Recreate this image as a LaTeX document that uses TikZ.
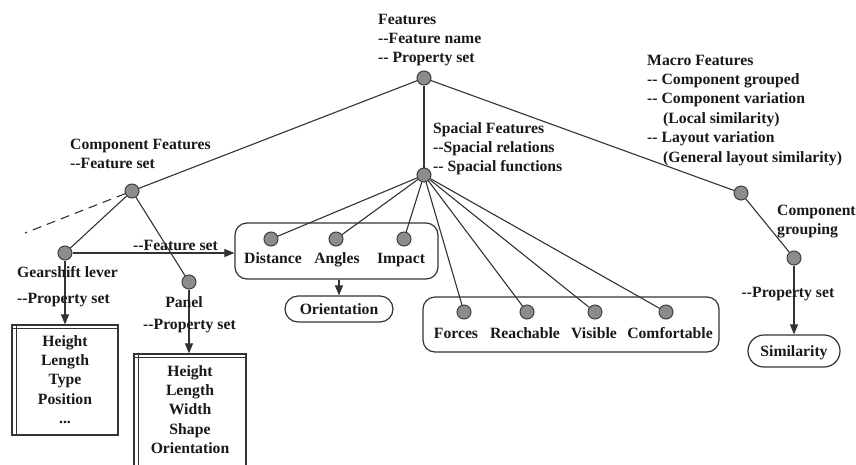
\documentclass[tikz,border=0pt]{standalone}
\usepackage{fontspec}
\setmainfont{Liberation Serif}
\usetikzlibrary{arrows.meta,calc}
\begin{document}
\begin{tikzpicture}[x=1pt,y=-1pt,
  every node/.style={font=\fontsize{15.7}{19.4}\selectfont\bfseries, text=black!90},
  dot/.style={circle,draw=black!75,fill=black!45,line width=1pt,minimum size=14pt,inner sep=0pt},
  conn/.style={draw=black!80,line width=1.1pt},
  arr/.style={conn,-{Triangle[length=10pt,width=8pt]}},
  lbl/.style={anchor=base west,inner sep=0pt,align=left},
  clbl/.style={anchor=base,inner sep=0pt,align=center},
  grp/.style={draw=black!80,line width=1.2pt,rounded corners=12pt,inner sep=0pt},
  pbox/.style={draw=black!80,line width=1.2pt,inner sep=0pt}
]
\clip (0,0) rectangle (856,464);
\fill[white] (0,0) rectangle (856,464);

% group boxes
\node[grp,minimum width=203pt,minimum height=56pt] (g1) at (336.5,251) {};
\node[grp,minimum width=296pt,minimum height=55pt] (g2) at (571,324.5) {};
\node[grp,rounded corners=13pt,minimum width=108pt,minimum height=26pt] (ori) at (339,309) {};
\node[grp,rounded corners=16pt,minimum width=92pt,minimum height=32pt] (sim) at (794,351) {};
\node[clbl] (orit) at (339,314) {Orientation};
\node[clbl] (simt) at (794,356) {Similarity};

% property boxes
\node[pbox,minimum width=106pt,minimum height=110pt] (pb1) at (65,380) {};
\node[pbox,minimum width=112pt,minimum height=130pt] (pb2) at (190,419) {};
\draw[draw=black!80,line width=1pt] ([yshift=-4pt]pb1.north west) -- ([yshift=-4pt]pb1.north east);
\draw[draw=black!80,line width=1pt] ([xshift=5pt]pb1.north west) -- ([xshift=5pt]pb1.south west);
\draw[draw=black!80,line width=1pt] ([yshift=-4pt]pb2.north west) -- ([yshift=-4pt]pb2.north east);
\draw[draw=black!80,line width=1pt] ([xshift=5pt]pb2.north west) -- ([xshift=5pt]pb2.south west);
\node[clbl] (pb1t) at (65,423.6) {Height\\Length\\Type\\Position\\...};
\node[clbl] (pb2t) at (190,453.6) {Height\\Length\\Width\\Shape\\Orientation};

% circles
\node[dot] (root) at (424,78) {};
\node[dot] (cf) at (132,191) {};
\node[dot] (sp) at (424,175) {};
\node[dot] (mac) at (741,193) {};
\node[dot] (cg) at (794,258) {};
\node[dot] (gear) at (65,253) {};
\node[dot] (panel) at (189,282) {};
\node[dot] (dist) at (271,239) {};
\node[dot] (ang) at (336,239) {};
\node[dot] (imp) at (404,239) {};
\node[dot] (forc) at (464,312) {};
\node[dot] (reach) at (527,312) {};
\node[dot] (vis) at (595,312) {};
\node[dot] (comf) at (666,312) {};
\coordinate (dashend) at (25,233);

% connectors
\draw[conn] (root) -- (cf);
\draw[conn] (root) -- (sp);
\draw[conn] (root) -- (mac);
\draw[conn] (mac) -- (cg);
\draw[conn] (cf) -- (gear);
\draw[conn] (cf) -- (panel);
\draw[conn,dashed,dash pattern=on 9pt off 6pt] (cf) -- (dashend);
\foreach \t in {dist,ang,imp,forc,reach,vis,comf} \draw[conn] (sp) -- (\t);
\draw[arr] (gear) -- (gear -| g1.west);
\draw[arr] (gear) -- (gear |- pb1.north);
\draw[arr] (panel) -- (panel |- pb2.north);
\draw[arr] (ori.north |- g1.south) -- (ori.north);
\draw[arr] (cg) -- (cg |- sim.north);

% labels (base anchor = baseline of last line)
\node[lbl] (ftl) at (378,62.8) {Features\\-{}-Feature name\\-{}- Property set};
\node[lbl] (cfl) at (70,168.4) {Component Features\\-{}-Feature set};
\node[lbl] (spl) at (433,171.8) {Spacial Features\\-{}-Spacial relations\\-{}- Spacial functions};
\node[lbl] (macl) at (647,162) {Macro Features\\-{}- Component grouped\\-{}- Component variation\\\hspace*{16pt}(Local similarity)\\-{}- Layout variation\\\hspace*{16pt}(General layout similarity)};
\node[lbl] (cgl) at (777,234.4) {Component\\grouping};
\node[clbl] (cgp) at (788,297) {-{}-Property set};
\node[lbl] (gearl) at (17,277) {Gearshift lever};
\node[lbl] (gearp) at (17,303) {-{}-Property set};
\node[clbl] (panl) at (184,307) {Panel};
\node[lbl] (panp) at (143,329) {-{}-Property set};
\node[lbl] (fsl) at (133,250) {-{}-Feature set};
\node[clbl] (distl) at (273,263) {Distance};
\node[clbl] (angl) at (337,263) {Angles};
\node[clbl] (impl) at (401,263) {Impact};
\node[clbl] (forcl) at (456,338) {Forces};
\node[clbl] (reachl) at (525,338) {Reachable};
\node[clbl] (visl) at (594,338) {Visible};
\node[clbl] (comfl) at (670,338) {Comfortable};
\end{tikzpicture}
\end{document}
